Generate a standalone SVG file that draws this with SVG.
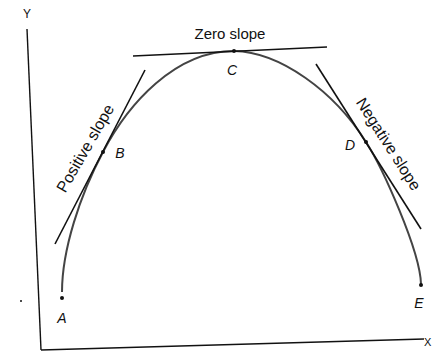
<svg xmlns="http://www.w3.org/2000/svg" width="432" height="353" viewBox="0 0 432 353">
<style>
.ax{stroke:#111;stroke-width:1.4;fill:none}
.tan{stroke:#111;stroke-width:1.6;fill:none}
.crv{stroke:#444;stroke-width:2;fill:none}
.lbl{font-family:"Liberation Sans",Arial,sans-serif;font-size:15px;fill:#111}
.sl{font-size:16px}
.pt{font-family:"Liberation Sans",Arial,sans-serif;font-size:14px;font-style:italic;fill:#111}
.dot{fill:#111}
</style>
<rect width="432" height="353" fill="#fff"/>
<g id="axes">
<line class="ax" x1="27" y1="29" x2="41" y2="350"/>
<line class="ax" x1="41" y1="350" x2="424" y2="339"/>
<text class="lbl" x="27" y="18" text-anchor="middle" style="font-size:12px">Y</text>
<text class="lbl" x="424" y="346" style="font-size:11px">X</text>
<circle cx="21" cy="301" r="1" class="dot"/>
</g>
<g id="curve">
<path class="crv" d="M62,292 C62,250 80,195 103,152 C128,104 175,51 234,51 C280,52 334,91 366,142 C382,167 420,250 421,284"/>
</g>
<g id="connectors">
<line class="tan" x1="133" y1="56" x2="327" y2="47"/>
<line class="tan" x1="145" y1="70" x2="55" y2="244"/>
<line class="tan" x1="316" y1="64" x2="421" y2="229"/>
</g>
<g id="zero-slope">
<text class="lbl" x="230" y="39" text-anchor="middle">Zero slope</text>
</g>
<g id="positive-slope">
<text class="lbl sl" transform="translate(90,151) rotate(-60)" text-anchor="middle">Positive slope</text>
</g>
<g id="negative-slope">
<text class="lbl sl" transform="translate(384,147) rotate(57.5)" text-anchor="middle">Negative slope</text>
</g>
<g id="A"><circle cx="62" cy="298" r="2" class="dot"/><text class="pt" x="62" y="323" text-anchor="middle">A</text></g>
<g id="B"><circle cx="103" cy="152" r="2" class="dot"/><text class="pt" x="120" y="158" text-anchor="middle">B</text></g>
<g id="C"><circle cx="234" cy="51" r="2" class="dot"/><text class="pt" x="232" y="75" text-anchor="middle">C</text></g>
<g id="D"><circle cx="366" cy="142" r="2" class="dot"/><text class="pt" x="350" y="150" text-anchor="middle">D</text></g>
<g id="E"><circle cx="421" cy="285" r="2" class="dot"/><text class="pt" x="419" y="308" text-anchor="middle">E</text></g>
</svg>
